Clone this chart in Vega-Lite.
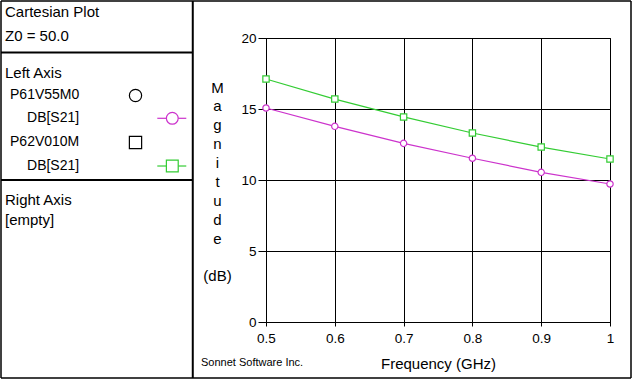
{
  "$schema": "https://vega.github.io/schema/vega-lite/v6.json",
  "background": "white",
  "autosize": {"type": "none"},
  "padding": {"left": 266, "top": 38, "right": 22, "bottom": 57},
  "width": 344,
  "height": 284,
  "config": {
    "font": "Liberation Sans",
    "view": {"stroke": "black", "strokeWidth": 1},
    "axis": {"labelFont": "Liberation Sans", "titleFont": "Liberation Sans", "labelColor": "black", "titleColor": "black", "titleFontWeight": "normal"}
  },
  "datasets": {
    "sparams": [
      {"s": "P61V55M0", "f": 0.5, "m": 15.07},
      {"s": "P61V55M0", "f": 0.6, "m": 13.78},
      {"s": "P61V55M0", "f": 0.7, "m": 12.58},
      {"s": "P61V55M0", "f": 0.8, "m": 11.53},
      {"s": "P61V55M0", "f": 0.9, "m": 10.54},
      {"s": "P61V55M0", "f": 1.0, "m": 9.72},
      {"s": "P62V010M", "f": 0.5, "m": 17.11},
      {"s": "P62V010M", "f": 0.6, "m": 15.70},
      {"s": "P62V010M", "f": 0.7, "m": 14.44},
      {"s": "P62V010M", "f": 0.8, "m": 13.31},
      {"s": "P62V010M", "f": 0.9, "m": 12.32},
      {"s": "P62V010M", "f": 1.0, "m": 11.48}
    ],
    "panelText": [
      {"text": "Cartesian Plot", "kind": "heading", "col": 0.63, "line": 0.47},
      {"text": "Z0 = 50.0", "kind": "heading", "col": 0.63, "line": 1.49},
      {"text": "Left Axis", "kind": "heading", "col": 0.63, "line": 3.06},
      {"text": "P61V55M0", "kind": "entry", "col": 1.43, "line": 3.99},
      {"text": "DB[S21]", "kind": "entry", "col": 4.13, "line": 4.97},
      {"text": "P62V010M", "kind": "entry", "col": 1.43, "line": 5.98},
      {"text": "DB[S21]", "kind": "entry", "col": 4.13, "line": 7.0},
      {"text": "Right Axis", "kind": "heading", "col": 0.63, "line": 8.45},
      {"text": "[empty]", "kind": "heading", "col": 0.63, "line": 9.29},
      {"text": "Sonnet Software Inc.", "kind": "footer", "col": 31.75, "line": 15.38}
    ],
    "panelRules": [
      {"col": 30.44, "col2": 30.44, "line": 0, "line2": 16, "w": "thick"},
      {"col": 0, "col2": 30.44, "line": 2.186, "line2": 2.186, "w": "thick"},
      {"col": 0, "col2": 30.44, "line": 7.597, "line2": 7.597, "w": "thick"},
      {"col": 0, "col2": 100, "line": 0, "line2": 0, "w": "thin"},
      {"col": 0, "col2": 100, "line": 16, "line2": 16, "w": "thin"},
      {"col": 0, "col2": 0, "line": 0, "line2": 16, "w": "thin"},
      {"col": 100, "col2": 100, "line": 0, "line2": 16, "w": "thin"}
    ],
    "panelKeys": [
      {"s": "P61V55M0", "role": "marker", "col": 21.35, "line": 4.01},
      {"s": "P62V010M", "role": "marker", "col": 21.35, "line": 6.005},
      {"s": "P61V55M0", "role": "trace", "col": 27.19, "line": 4.978, "from": 24.81, "to": 29.41},
      {"s": "P62V010M", "role": "trace", "col": 27.19, "line": 7.003, "from": 24.81, "to": 29.41}
    ]
  },
  "resolve": {"scale": {"x": "independent", "y": "independent"}, "axis": {"x": "independent", "y": "independent"}},
  "layer": [
    {
      "data": {"name": "sparams"},
      "encoding": {
        "x": {
          "field": "f", "type": "quantitative",
          "scale": {"domain": [0.5, 1], "nice": false, "zero": false},
          "axis": {
            "values": [0.5, 0.6, 0.7, 0.8, 0.9, 1], "format": "~g",
            "title": "Frequency (GHz)", "titleFontSize": 15, "titlePadding": 11.5,
            "grid": true, "gridColor": "black", "gridOpacity": 1, "gridWidth": 1,
            "domainColor": "black", "tickColor": "black", "tickSize": 4,
            "labelFontSize": 13.5, "labelPadding": 5, "labelFlush": false
          }
        },
        "y": {
          "field": "m", "type": "quantitative",
          "scale": {"domain": [0, 20], "nice": false},
          "axis": {
            "values": [0, 5, 10, 15, 20],
            "title": ["M", "a", "g", "n", "i", "t", "u", "d", "e", "\u200b", "(dB)"],
            "titleAngle": 0, "titleAlign": "center", "titleBaseline": "alphabetic",
            "titleX": -49, "titleY": 54, "titleLineHeight": 18.9, "titleFontSize": 15,
            "grid": true, "gridColor": "black", "gridOpacity": 1, "gridWidth": 1,
            "domainColor": "black", "tickColor": "black", "tickSize": 8,
            "labelFontSize": 13.5, "labelPadding": 2, "labelFlush": false
          }
        }
      },
      "layer": [
        {
          "mark": {"type": "line", "strokeWidth": 1.2},
          "encoding": {
            "color": {"field": "s", "type": "nominal", "scale": {"domain": ["P61V55M0", "P62V010M"], "range": ["#cc33cc", "#33cc33"]}, "legend": null}
          }
        },
        {
          "mark": {"type": "point", "filled": true, "fill": "white", "fillOpacity": 1, "opacity": 1, "size": 40, "strokeWidth": 1.2},
          "encoding": {
            "stroke": {"field": "s", "type": "nominal", "scale": {"domain": ["P61V55M0", "P62V010M"], "range": ["#cc33cc", "#33cc33"]}, "legend": null},
            "shape": {"field": "s", "type": "nominal", "scale": {"domain": ["P61V55M0", "P62V010M"], "range": ["circle", "square"]}, "legend": null}
          }
        }
      ]
    },
    {
      "encoding": {
        "x": {"field": "col", "type": "quantitative", "scale": {"domain": [0, 100], "range": [-265, 365], "nice": false, "zero": false}, "axis": null},
        "y": {"field": "line", "type": "quantitative", "scale": {"domain": [0, 16], "range": [-37, 340], "nice": false, "zero": false}, "axis": null}
      },
      "layer": [
        {
          "data": {"name": "panelRules"},
          "mark": {"type": "rule", "color": "black"},
          "encoding": {
            "x2": {"field": "col2"},
            "y2": {"field": "line2"},
            "strokeWidth": {"field": "w", "type": "nominal", "scale": {"domain": ["thick", "thin"], "range": [2, 1.5]}, "legend": null}
          }
        },
        {
          "data": {"name": "panelText"},
          "transform": [{"filter": "datum.kind === 'heading'"}],
          "mark": {"type": "text", "align": "left", "baseline": "middle", "color": "black", "font": "Liberation Sans", "fontSize": 15},
          "encoding": {"text": {"field": "text"}}
        },
        {
          "data": {"name": "panelText"},
          "transform": [{"filter": "datum.kind === 'entry'"}],
          "mark": {"type": "text", "align": "left", "baseline": "middle", "color": "black", "font": "Liberation Sans", "fontSize": 14},
          "encoding": {"text": {"field": "text"}}
        },
        {
          "data": {"name": "panelText"},
          "transform": [{"filter": "datum.kind === 'footer'"}],
          "mark": {"type": "text", "align": "left", "baseline": "middle", "color": "black", "font": "Liberation Sans", "fontSize": 11},
          "encoding": {"text": {"field": "text"}}
        },
        {
          "data": {"name": "panelKeys"},
          "transform": [{"filter": "datum.role === 'trace'"}],
          "mark": {"type": "rule", "strokeWidth": 1.2},
          "encoding": {
            "x": {"field": "from", "type": "quantitative"},
            "x2": {"field": "to"},
            "color": {"field": "s", "type": "nominal", "scale": {"domain": ["P61V55M0", "P62V010M"], "range": ["#cc33cc", "#33cc33"]}, "legend": null}
          }
        },
        {
          "data": {"name": "panelKeys"},
          "transform": [{"filter": "datum.role === 'trace'"}],
          "mark": {"type": "point", "filled": true, "fill": "white", "fillOpacity": 1, "opacity": 1, "size": 140, "strokeWidth": 1.2},
          "encoding": {
            "stroke": {"field": "s", "type": "nominal", "scale": {"domain": ["P61V55M0", "P62V010M"], "range": ["#cc33cc", "#33cc33"]}, "legend": null},
            "shape": {"field": "s", "type": "nominal", "scale": {"domain": ["P61V55M0", "P62V010M"], "range": ["circle", "square"]}, "legend": null}
          }
        },
        {
          "data": {"name": "panelKeys"},
          "transform": [{"filter": "datum.role === 'marker'"}],
          "mark": {"type": "point", "filled": false, "color": "black", "opacity": 1, "size": 150, "strokeWidth": 1.2},
          "encoding": {
            "shape": {"field": "s", "type": "nominal", "scale": {"domain": ["P61V55M0", "P62V010M"], "range": ["circle", "square"]}, "legend": null}
          }
        }
      ]
    }
  ]
}
